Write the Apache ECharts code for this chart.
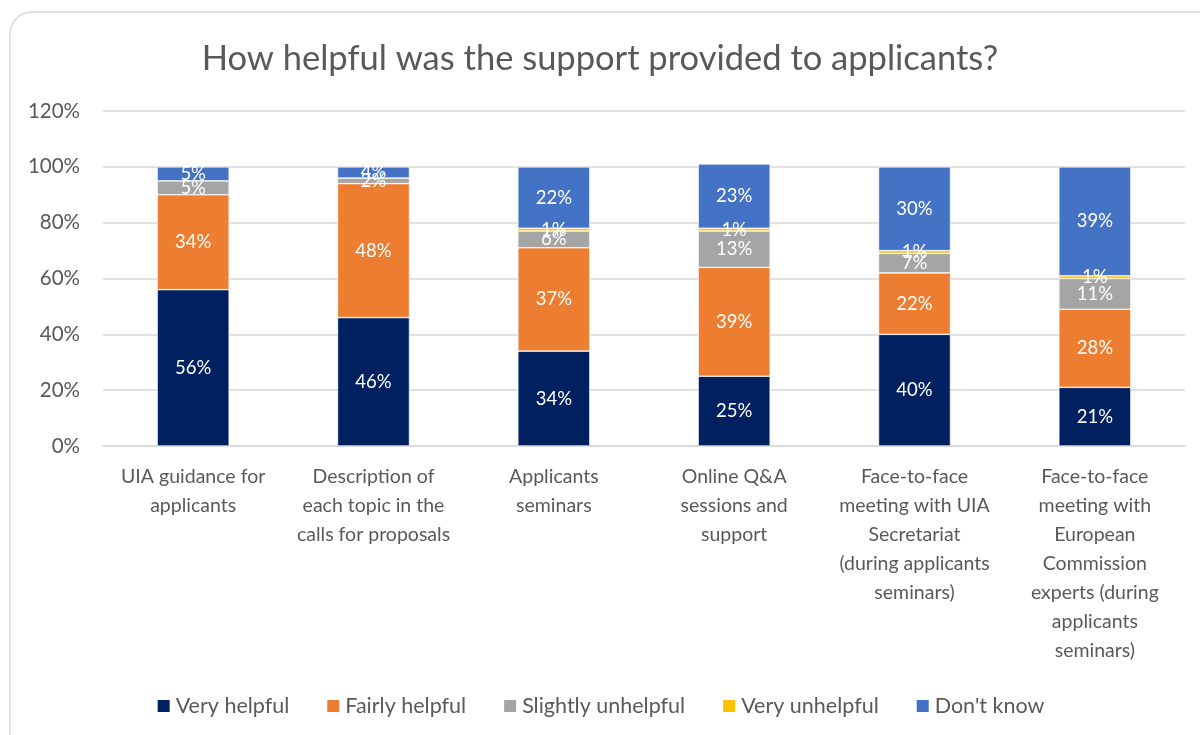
<!DOCTYPE html>
<html>
<head>
<meta charset="utf-8">
<script src="https://cdn.jsdelivr.net/npm/echarts@6/dist/echarts.min.js"></script>
<style>
  html, body { margin: 0; padding: 0; background: #fff; }
  #chart { width: 1200px; height: 735px; }
</style>
</head>
<body>
<div id="chart"></div>
<script>
// Support types, wrapped the way they appear under the axis
const categories = [
  'UIA guidance for\napplicants',
  'Description of\neach topic in the\ncalls for proposals',
  'Applicants\nseminars',
  'Online Q&A\nsessions and\nsupport',
  'Face-to-face\nmeeting with UIA\nSecretariat\n(during applicants\nseminars)',
  'Face-to-face\nmeeting with\nEuropean\nCommission\nexperts (during\napplicants\nseminars)'
];

// Share of respondents (%) per answer
const veryHelpful       = [56, 46, 34, 25, 40, 21];
const fairlyHelpful     = [34, 48, 37, 39, 22, 28];
const slightlyUnhelpful = [5, 2, 6, 13, 7, 11];
const veryUnhelpful     = [0, 0, 1, 1, 1, 1];
const dontKnow          = [5, 4, 22, 23, 30, 39];

const yTicks = [0, 20, 40, 60, 80, 100, 120];

const FONT = 'Lato, "Noto Sans", sans-serif';
const TEXT = '#595959';

const seriesDefs = [
  { name: 'Very helpful',       data: veryHelpful,       color: '#002060' },
  { name: 'Fairly helpful',     data: fairlyHelpful,     color: '#ED7D31' },
  { name: 'Slightly unhelpful', data: slightlyUnhelpful, color: '#A5A5A5' },
  { name: 'Very unhelpful',     data: veryUnhelpful,     color: '#FFC000' },
  { name: "Don't know",         data: dontKnow,          color: '#4472C4' }
];

const chart = echarts.init(document.getElementById('chart'));

chart.setOption({
  animation: false,
  textStyle: { fontFamily: FONT },
  graphic: [{
    type: 'rect',
    silent: true,
    z: -10,
    shape: { x: 10, y: 12, width: 1210, height: 760, r: 22 },
    style: { fill: '#fff', stroke: '#D9D9D9', lineWidth: 1.5 }
  }],
  title: {
    text: 'How helpful was the support provided to applicants?',
    left: 'center',
    top: 36,
    textStyle: { fontFamily: FONT, fontSize: 34.5, fontWeight: 'normal', color: TEXT }
  },
  legend: {
    bottom: 13,
    left: 'center',
    itemWidth: 14,
    itemHeight: 14,
    itemGap: 36,
    icon: 'rect',
    textStyle: { fontFamily: FONT, fontSize: 21.5, color: TEXT },
    data: seriesDefs.map(s => s.name)
  },
  grid: { left: 103, right: 15, top: 111, bottom: 289 },
  xAxis: {
    type: 'category',
    data: categories,
    axisLine: { lineStyle: { color: '#D9D9D9', width: 1.5 } },
    axisTick: { show: false },
    axisLabel: {
      interval: 0,
      fontFamily: FONT,
      fontSize: 19.5,
      color: TEXT,
      lineHeight: 29,
      margin: 16,
      verticalAlign: 'top'
    }
  },
  yAxis: {
    type: 'value',
    min: yTicks[0],
    max: yTicks[yTicks.length - 1],
    interval: yTicks[1] - yTicks[0],
    axisLine: { show: false },
    axisTick: { show: false },
    splitLine: { lineStyle: { color: '#D9D9D9', width: 1.5 } },
    axisLabel: {
      fontFamily: FONT,
      fontSize: 20.5,
      color: TEXT,
      margin: 23,
      formatter: v => v + '%'
    }
  },
  series: seriesDefs.map(s => ({
    name: s.name,
    type: 'bar',
    stack: 'total',
    barWidth: 72,
    data: s.data,
    itemStyle: { color: s.color, borderColor: '#fff', borderWidth: 0.6 },
    label: {
      show: true,
      position: 'inside',
      color: '#fff',
      fontFamily: FONT,
      fontSize: 18.5,
      formatter: p => (p.value ? p.value + '%' : '')
    },
    labelLayout: { hideOverlap: false }
  }))
});
</script>
</body>
</html>
